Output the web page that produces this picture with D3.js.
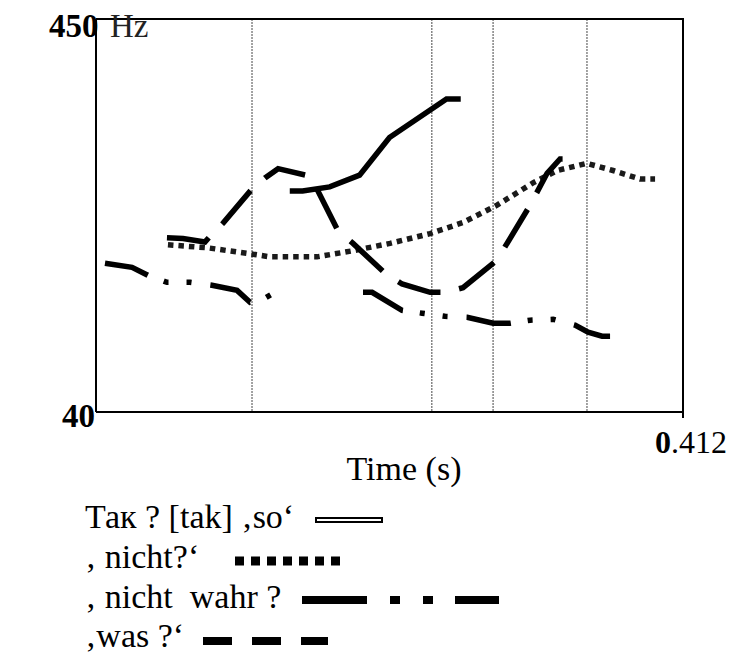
<!DOCTYPE html>
<html>
<head>
<meta charset="utf-8">
<script src="https://cdn.jsdelivr.net/npm/d3@7"></script>
<style>
  html, body { margin: 0; padding: 0; background: #fff; }
  svg { display: block; }
</style>
</head>
<body>
<svg id="chart" width="734" height="653" font-family="'Liberation Serif', 'DejaVu Serif', serif"></svg>
<script>
// ---------- data ----------
const timeDomain = [0, 0.412];
const hzDomain = [40, 450];
const yTickLabels = ["40", "450"];
const xTickLabel = "0.412";
const xAxisTitle = "Time (s)";
const yUnit = "Hz";
const gridTimes = [0.1095, 0.2357, 0.2787, 0.3446];

const seriesNames = ["Так ? [tak] ‚so‘", "‚ nicht?‘", "‚ nicht  wahr ?", "‚was ?‘"];

// Так ? ‚so' (solid)
const soTime = [0.136, 0.145, 0.164, 0.185, 0.206, 0.246, 0.256];
const soHz   = [156, 156, 160, 172, 217, 275, 275];

// ‚nicht?' (dotted)
const nichtTime = [0.0505, 0.0779, 0.1081, 0.1221, 0.1551, 0.1804, 0.2064, 0.2345, 0.2576, 0.2815, 0.3067, 0.3236, 0.3446, 0.3629, 0.3818, 0.3924];
const nichtHz   = [112, 110, 106, 104, 104, 108, 113, 120, 128.5, 143, 164, 177, 185, 177, 168, 168];

// ‚nicht wahr ?' (dash-dot-dot), null = gap
const wahrTime = [0.0063, 0.0253, 0.0365, 0.0498, 0.0660, 0.0814, 0.0990, 0.1081, 0.1172, 0.132, 0.16,
                  0.1874, 0.1938, 0.2148, 0.2289, 0.2450, 0.2605, 0.2787, 0.2906, 0.3047, 0.3208, 0.3362, 0.3454, 0.3552, 0.3608];
const wahrHz   = [100, 97.5, 92.8, 88.9, 88.9, 87.3, 84.6, 78.6, 80.1, 86.5, null,
                  83.6, 83.6, 74.8, 73.5, 72.1, 71.7, 69.1, 69.1, 70.4, 70.8, 68.3, 65.4, 63.8, 63.8];

// ‚was ?' (long dashes)
const wasTime = [0.0498, 0.0611, 0.0765, 0.0800, 0.0892, 0.1095, 0.1186, 0.1278, 0.1488, 0.1558, 0.1699, 0.1804, 0.2029, 0.2148, 0.2345, 0.2450, 0.2576, 0.2815, 0.3047, 0.3166, 0.3257, 0.3306];
const wasHz   = [117, 116.5, 114, 118, 128, 158, 169, 179, 171.5, 156, 122, 113, 94, 88, 83.6, 83.6, 86, 102, 143, 174, 190, 190];

// ---------- layout ----------
const L = 96, R = 683, T = 19, B = 412;
const FONT = "'Liberation Serif', 'DejaVu Serif', serif";
const svg = d3.select("#chart");
const x = d3.scaleLinear().domain(timeDomain).range([L, R]);
const y = d3.scaleLog().domain(hzDomain).range([B, T]);

// grid lines
svg.append("g").selectAll("line").data(gridTimes).join("line")
  .attr("x1", d => x(d)).attr("x2", d => x(d))
  .attr("y1", T).attr("y2", B)
  .attr("stroke", "#666").attr("stroke-width", 1.2).attr("stroke-dasharray", "2,1");

// frame
const frame = svg.append("g").attr("stroke", "#000").attr("stroke-width", 2).attr("fill", "none");
frame.append("line").attr("x1", L).attr("x2", R + 1).attr("y1", T).attr("y2", T);
frame.append("line").attr("x1", R).attr("x2", R).attr("y1", T).attr("y2", B + 6);
frame.append("line").attr("x1", L).attr("x2", R).attr("y1", B).attr("y2", B);
frame.append("line").attr("x1", L).attr("x2", L).attr("y1", T).attr("y2", B);

// series drawing
function zip(ts, vs) { return ts.map((t, i) => ({t, v: vs[i]})); }
function segments(pts) {
  const segs = []; let cur = [];
  pts.forEach(p => { if (p.v == null) { if (cur.length) segs.push(cur); cur = []; } else cur.push(p); });
  if (cur.length) segs.push(cur);
  return segs;
}
const line = d3.line().x(d => x(d.t)).y(d => y(d.v));
const styles = [
  {data: zip(soTime, soHz), dash: null, w: 5.5},
  {data: zip(nichtTime, nichtHz), dash: "5.5,5", w: 5.5, color: "#1a1a1a"},
  {data: zip(wahrTime, wahrHz), dash: "45,17,5,18,5,19", w: 5.5},
  {data: zip(wasTime, wasHz), dash: "44,19", w: 5.5}
];
const gLines = svg.append("g").attr("fill", "none");
styles.forEach(s => {
  segments(s.data).forEach(seg => {
    gLines.append("path").attr("d", line(seg))
      .attr("stroke", s.color || "#000").attr("stroke-width", s.w)
      .attr("stroke-dasharray", s.dash).attr("stroke-linejoin", "miter");
  });
});

// axis labels
function txt(xp, yp, size) {
  return svg.append("text").attr("x", xp).attr("y", yp).attr("font-size", size)
    .attr("font-family", FONT).attr("fill", "#000");
}
txt(49, 37, 33).attr("font-weight", "bold").text(yTickLabels[1]);
txt(110, 37, 33).attr("fill", "#222").text(yUnit);
txt(62, 427, 33).attr("font-weight", "bold").text(yTickLabels[0]);
const xl = txt(655, 453, 32);
xl.append("tspan").attr("font-weight", "bold").text(xTickLabel.charAt(0));
xl.append("tspan").text(xTickLabel.slice(1));
txt(404, 480, 34).attr("text-anchor", "middle").text(xAxisTitle);

// legend
const legendRows = [528, 568, 608, 647];
const legendSampleY = [520, 561, 600, 641];
const legendSampleX = [[315, 383], [235, 340], [302, 499], [203, 328]];
const legendDash = [null, "9,7", "65,23,10,23,10,22", "29,20"];
const legendW = [6, 9, 8, 8];
const lg = svg.append("g");
seriesNames.forEach((name, i) => {
  lg.append("text").attr("x", 85).attr("y", legendRows[i]).attr("font-size", 34)
    .attr("font-family", FONT).attr("fill", "#000")
    .attr("xml:space", "preserve").style("white-space", "pre").text(name);
  const [x1, x2] = legendSampleX[i];
  lg.append("line").attr("x1", x1).attr("x2", x2).attr("y1", legendSampleY[i]).attr("y2", legendSampleY[i])
    .attr("stroke", "#000").attr("stroke-width", legendW[i]).attr("stroke-dasharray", legendDash[i]);
  if (i === 0) {
    lg.append("line").attr("x1", x1 + 2).attr("x2", x2 - 2).attr("y1", legendSampleY[i]).attr("y2", legendSampleY[i])
      .attr("stroke", "#fff").attr("stroke-width", 2);
  }
});
</script>
</body>
</html>
